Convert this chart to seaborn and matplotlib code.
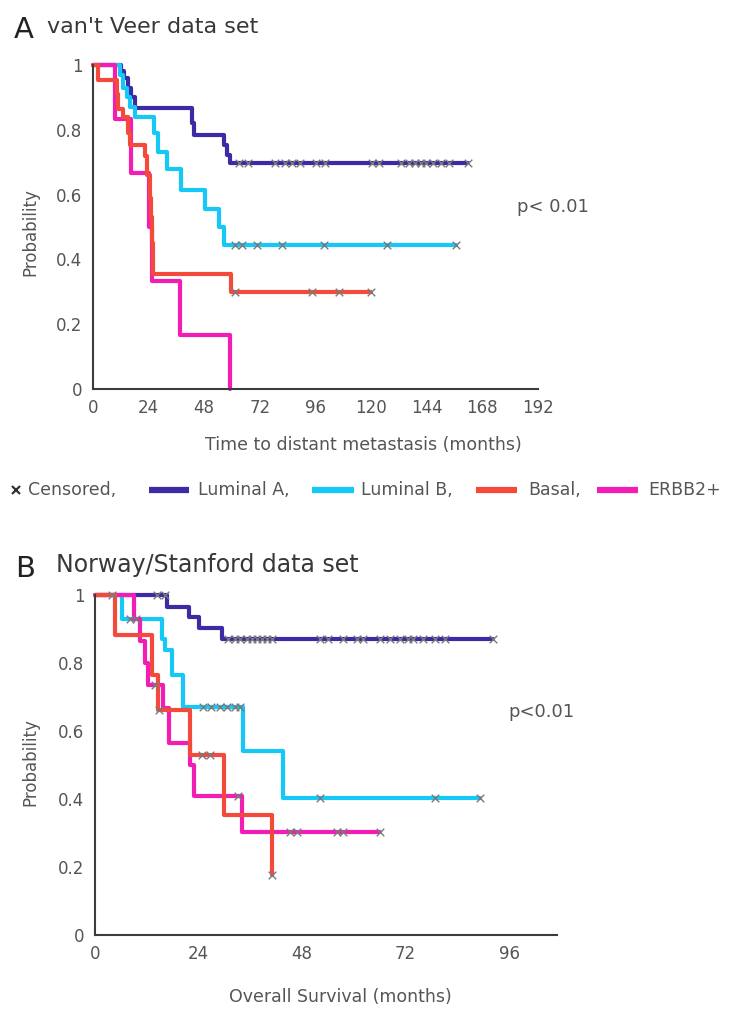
import numpy as np
import pandas as pd
import matplotlib
matplotlib.use("Agg")
import matplotlib.pyplot as plt
from matplotlib.lines import Line2D
import seaborn as sns

# ---------------- data ----------------
groups = ["Luminal A", "Luminal B", "ERBB2+", "Basal"]
colors = {"Luminal A": "#3b2ca6", "Luminal B": "#16c8f6",
          "Basal": "#f44a3c", "ERBB2+": "#f21db4"}

# Panel A: van't Veer (time to distant metastasis, months)
A_lumA_t = [0, 12, 13.5, 15, 16.5, 18, 42.5, 43.5, 56.5, 58, 59, 161.6]
A_lumA_s = [1, 0.98, 0.96, 0.93, 0.90, 0.866, 0.82, 0.784, 0.753, 0.722, 0.697, 0.697]
A_lumA_c = [62.8, 67, 78.6, 83, 85.9, 89.5, 96, 100, 120.5, 123.4, 132.8, 136.4,
            139, 141.4, 143.6, 146.5, 150, 153.7, 161.6]

A_lumB_t = [0, 11.5, 13, 14.5, 16, 18, 26.5, 28, 32, 38, 48.5, 54.5, 56.5, 156.6]
A_lumB_s = [1, 0.97, 0.93, 0.90, 0.87, 0.84, 0.79, 0.73, 0.68, 0.615, 0.555, 0.50, 0.445, 0.445]
A_lumB_c = [61.3, 64.2, 70.7, 81.5, 99.6, 127, 156.6]

A_basal_t = [0, 2, 10.5, 11, 13, 15, 16, 22.5, 23.5, 24.5, 25, 25.5, 26, 59.5, 119.8]
A_basal_s = [1, 0.955, 0.91, 0.864, 0.84, 0.79, 0.753, 0.72, 0.66, 0.59, 0.53, 0.45, 0.355, 0.30, 0.30]
A_basal_c = [61.3, 94.5, 106, 119.8]

A_erbb2_t = [0, 9.5, 16.5, 24, 25.5, 37.5, 59]
A_erbb2_s = [1, 0.833, 0.667, 0.5, 0.333, 0.167, 0]
A_erbb2_c = []

# Panel B: Norway/Stanford (overall survival, months)
B_lumA_t = [0, 16.8, 21.8, 24, 29.5, 92.3]
B_lumA_s = [1, 0.966, 0.934, 0.902, 0.870, 0.870]
B_lumA_c = [3.9, 14.3, 16.2, 30.9, 32.5, 33.6, 35.2, 36.3, 37.5, 38.6, 39.8, 41,
            52.2, 54.1, 57.6, 60.7, 62.2, 66.1, 68.4, 70.7, 72.6, 73.8, 76.1,
            78.8, 81.1, 92.3]

B_lumB_t = [0, 6.3, 15.5, 16.3, 17.8, 20.5, 34.3, 43.6, 89.3]
B_lumB_s = [1, 0.93, 0.87, 0.838, 0.765, 0.672, 0.54, 0.402, 0.402]
B_lumB_c = [8.1, 25.1, 27, 29, 30.5, 32.5, 33.6, 52.2, 78.8, 89.3]

B_basal_t = [0, 4.6, 13.3, 14.5, 22, 30, 41]
B_basal_s = [1, 0.882, 0.765, 0.662, 0.53, 0.353, 0.176]
B_basal_c = [14.8, 24.7, 26.7, 41]

B_erbb2_t = [0, 9, 10.5, 11.5, 12.3, 15.8, 17.2, 22, 23, 34, 66.1]
B_erbb2_s = [1, 0.93, 0.865, 0.80, 0.735, 0.667, 0.565, 0.50, 0.41, 0.304, 0.304]
B_erbb2_c = [9.5, 13.9, 33.2, 45.2, 46.8, 56, 57.6, 66.1]

A_xticks = [0, 24, 48, 72, 96, 120, 144, 168, 192]
B_xticks = [0, 24, 48, 72, 96]
y_ticks = [0, 0.2, 0.4, 0.6, 0.8, 1]
y_ticklabels = ["0", "0.2", "0.4", "0.6", "0.8", "1"]

legend_labels = ["Censored,", "Luminal A,", "Luminal B,", "Basal,", "ERBB2+"]

# ---------------- helpers ----------------
def build(curves):
    rows, cens = [], []
    for g, (t, s, c) in curves.items():
        for ti, si in zip(t, s):
            rows.append((g, ti, si))
        t_arr, s_arr = np.asarray(t), np.asarray(s)
        for ci in c:
            k = np.searchsorted(t_arr, ci, side="right") - 1
            cens.append((g, ci, s_arr[k]))
    df = pd.DataFrame(rows, columns=["group", "time", "surv"])
    cdf = pd.DataFrame(cens, columns=["group", "time", "surv"])
    return df, cdf

sns.set_style("white")
plt.rcParams["font.family"] = ["DejaVu Sans"]

W, H = 737, 1011
fig = plt.figure(figsize=(W / 100, H / 100), dpi=100)

def px_axes(x0, x1, y_top, y_bot):
    return fig.add_axes([x0 / W, 1 - y_bot / H, (x1 - x0) / W, (y_bot - y_top) / H])

axis_col = "#3c3c3c"
txt_col = "#555555"

def style(ax, xlim, xticks):
    ax.set_xlim(*xlim)
    ax.set_ylim(0, 1)
    ax.set_xticks(xticks)
    ax.set_xticklabels([str(v) for v in xticks])
    ax.set_yticks(y_ticks)
    ax.set_yticklabels(y_ticklabels)
    for sp in ["top", "right"]:
        ax.spines[sp].set_visible(False)
    for sp in ["left", "bottom"]:
        ax.spines[sp].set_color(axis_col)
        ax.spines[sp].set_linewidth(1.5)
    ax.tick_params(direction="inout", length=5, width=1.2, color=axis_col,
                   labelcolor=txt_col, labelsize=12, pad=5)
    ax.set_xlabel("")
    ax.set_ylabel("")

def draw(ax, curves):
    df, cdf = build(curves)
    sns.lineplot(data=df, x="time", y="surv", hue="group", hue_order=groups,
                 palette=colors, estimator=None, sort=False, drawstyle="steps-post",
                 linewidth=3.0, legend=False, ax=ax, clip_on=False)
    if len(cdf):
        sns.scatterplot(data=cdf, x="time", y="surv", marker="x", color="#7a7a7a",
                        s=30, linewidth=1.0, legend=False, ax=ax, zorder=6,
                        clip_on=False)

# ---------------- panel A ----------------
axA = px_axes(93, 538, 65, 389)
draw(axA, {"Luminal A": (A_lumA_t, A_lumA_s, A_lumA_c),
           "Luminal B": (A_lumB_t, A_lumB_s, A_lumB_c),
           "ERBB2+": (A_erbb2_t, A_erbb2_s, A_erbb2_c),
           "Basal": (A_basal_t, A_basal_s, A_basal_c)})
style(axA, (0, 192), A_xticks)

# ---------------- panel B ----------------
axB = px_axes(95, 557, 595, 935)
draw(axB, {"Luminal A": (B_lumA_t, B_lumA_s, B_lumA_c),
           "Luminal B": (B_lumB_t, B_lumB_s, B_lumB_c),
           "ERBB2+": (B_erbb2_t, B_erbb2_s, B_erbb2_c),
           "Basal": (B_basal_t, B_basal_s, B_basal_c)})
style(axB, (0, 107.1), B_xticks)

def ftext(x, y, s, **kw):
    fig.text(x / W, 1 - y / H, s, **kw)

# titles
ftext(14, 38, "A", fontsize=21, color="#222222", va="baseline")
ftext(47, 33, "van't Veer data set", fontsize=16, color="#383838", va="baseline")
ftext(15, 577, "B", fontsize=21, color="#222222", va="baseline")
ftext(56, 572, "Norway/Stanford data set", fontsize=17, color="#383838", va="baseline")

# axis labels
ftext(30, 232, "Probability", fontsize=12, color=txt_col, rotation=90,
      ha="center", va="center")
ftext(30, 762, "Probability", fontsize=12, color=txt_col, rotation=90,
      ha="center", va="center")
ftext(363, 445, "Time to distant metastasis (months)", fontsize=12.5,
      color=txt_col, ha="center", va="center")
ftext(340, 997, "Overall Survival (months)", fontsize=12.5, color=txt_col,
      ha="center", va="center")

# p-values
ftext(553, 207, "p< 0.01", fontsize=13, color=txt_col, ha="center", va="center")
ftext(541, 712, "p<0.01", fontsize=13, color=txt_col, ha="center", va="center")

# legend row
ly = 490
fig.add_artist(Line2D([16 / W], [1 - ly / H], marker="x", color="#333333",
                      markersize=6, markeredgewidth=1.6, linestyle="none"))
ftext(28, ly, legend_labels[0], fontsize=12.5, color=txt_col, va="center")
swatches = [(149, 189, "Luminal A", 198), (312, 354, "Luminal B", 361),
            (476, 517, "Basal", 528), (597, 638, "ERBB2+", 648)]
for (x0, x1, g, tx), lab in zip(swatches, legend_labels[1:]):
    fig.add_artist(Line2D([x0 / W, x1 / W], [1 - ly / H, 1 - ly / H],
                          color=colors[g], linewidth=4.5, solid_capstyle="butt"))
    ftext(tx, ly, lab, fontsize=12.5, color=txt_col, va="center")

fig.savefig("out.png", dpi=100)
